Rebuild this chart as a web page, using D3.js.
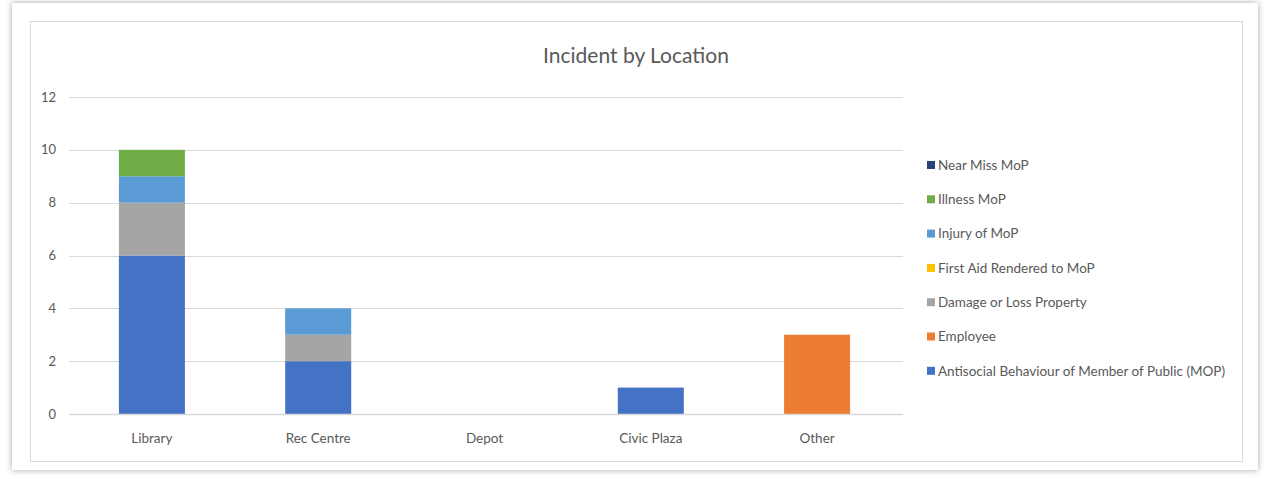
<!DOCTYPE html>
<html>
<head>
<meta charset="utf-8">
<script src="https://cdn.jsdelivr.net/npm/d3@7"></script>
<style>
  body { margin: 0; background: #fff; }
  svg { display: block; font-family: Lato, "Open Sans", sans-serif; }
</style>
</head>
<body>
<svg id="chart" width="1264" height="479"></svg>
<script>
const locations = ['Library', 'Rec Centre', 'Depot', 'Civic Plaza', 'Other'];
const seriesNames = [
    'Antisocial Behaviour of Member of Public (MOP)',
    'Employee',
    'Damage or Loss Property',
    'First Aid Rendered to MoP',
    'Injury of MoP',
    'Illness MoP',
    'Near Miss MoP'
];
const antisocial = [6, 2, 0, 1, 0];
const employee = [0, 0, 0, 0, 3];
const damage = [2, 1, 0, 0, 0];
const firstAid = [0, 0, 0, 0, 0];
const injury = [1, 1, 0, 0, 0];
const illness = [1, 0, 0, 0, 0];
const nearMiss = [0, 0, 0, 0, 0];
const yTicks = [0, 2, 4, 6, 8, 10, 12];
const colours = ['#4472C4', '#ED7D31', '#A5A5A5', '#FFC000', '#5B9BD5', '#70AD47', '#264478'];

const allSeries = [antisocial, employee, damage, firstAid, injury, illness, nearMiss];
const rows = locations.map((loc, i) => {
    const r = { loc };
    seriesNames.forEach((s, j) => { r[s] = allSeries[j][i]; });
    return r;
});

const svg = d3.select('#chart');

// outer card with shadow
const defs = svg.append('defs');
const f = defs.append('filter').attr('id', 'shadow')
    .attr('x', -0.05).attr('y', -0.05).attr('width', 1.1).attr('height', 1.1);
f.append('feDropShadow').attr('dx', 0).attr('dy', 0).attr('stdDeviation', 3)
    .attr('flood-color', '#000').attr('flood-opacity', 0.35);

svg.append('rect').attr('x', 12).attr('y', 3).attr('width', 1246).attr('height', 467)
    .attr('fill', '#fff').attr('filter', 'url(#shadow)');

svg.append('rect').attr('x', 30.5).attr('y', 21.5).attr('width', 1212).attr('height', 440)
    .attr('fill', '#fff').attr('stroke', '#d9d9d9').attr('stroke-width', 1);

const plotL = 69, plotR = 903, plotT = 97, plotB = 414;

const x = d3.scaleBand().domain(locations).range([plotL, 900]).paddingInner(0.603).paddingOuter(0.3);
const y = d3.scaleLinear().domain([0, 12]).range([plotB, plotT]);

// gridlines
svg.append('g').selectAll('line').data(yTicks).join('line')
    .attr('x1', plotL).attr('x2', plotR)
    .attr('y1', d => Math.round(y(d)) + 0.5).attr('y2', d => Math.round(y(d)) + 0.5)
    .attr('stroke', '#d9d9d9').attr('stroke-width', 1);

// y labels
svg.append('g').selectAll('text').data(yTicks).join('text')
    .attr('x', 56).attr('y', d => y(d)).attr('dy', '0.35em')
    .attr('text-anchor', 'end').attr('fill', '#595959').attr('font-size', 13)
    .text(d => d);

// stacked bars
const stack = d3.stack().keys(seriesNames)(rows);
svg.append('g').selectAll('g').data(stack).join('g')
    .attr('fill', (d, i) => colours[i])
    .selectAll('rect').data(d => d).join('rect')
    .attr('x', d => x(d.data.loc))
    .attr('width', x.bandwidth())
    .attr('y', d => y(d[1]))
    .attr('height', d => y(d[0]) - y(d[1]));

// x axis line
svg.append('line').attr('x1', plotL).attr('x2', plotR)
    .attr('y1', Math.round(y(0)) + 0.5).attr('y2', Math.round(y(0)) + 0.5)
    .attr('stroke', '#d9d9d9').attr('stroke-width', 1.5);

// category labels
svg.append('g').selectAll('text').data(locations).join('text')
    .attr('x', d => x(d) + x.bandwidth() / 2).attr('y', 443)
    .attr('text-anchor', 'middle').attr('fill', '#595959').attr('font-size', 13.5)
    .text(d => d);

// title
svg.append('text').attr('x', 636).attr('y', 63).attr('text-anchor', 'middle')
    .attr('fill', '#595959').attr('font-size', 21).text('Incident by Location');

// legend (reverse order, top to bottom)
const legendItems = seriesNames.map((s, i) => ({ s, c: colours[i] })).reverse();
const lg = svg.append('g').selectAll('g').data(legendItems).join('g')
    .attr('transform', (d, i) => `translate(927, ${165 + i * 34.3})`);
lg.append('rect').attr('x', 0).attr('y', -4).attr('width', 8).attr('height', 8).attr('fill', d => d.c);
lg.append('text').attr('x', 11).attr('dy', '0.35em').attr('fill', '#595959').attr('font-size', 13.5)
    .text(d => d.s);
</script>
</body>
</html>
